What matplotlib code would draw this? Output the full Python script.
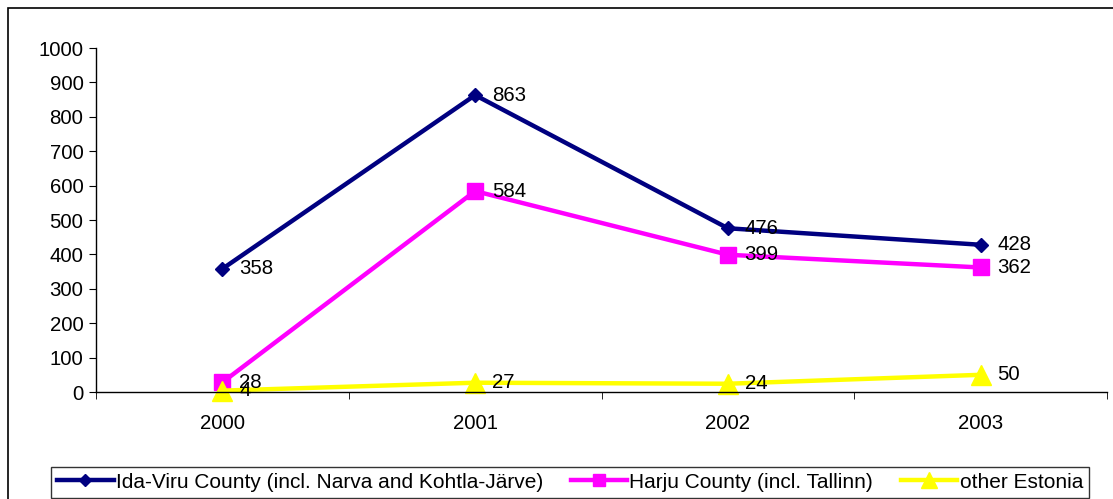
import matplotlib
matplotlib.use("Agg")
import matplotlib.pyplot as plt
from matplotlib.patches import Rectangle
import numpy as np

plt.rcParams['font.family'] = ['Liberation Sans', 'DejaVu Sans']

years = ['2000', '2001', '2002', '2003']
ida_viru = [358, 863, 476, 428]
harju = [28, 584, 399, 362]
other = [4, 27, 24, 50]

labels = ['Ida-Viru County (incl. Narva and Kohtla-Järve)',
          'Harju County (incl. Tallinn)',
          'other Estonia']

W, H = 1113, 499
fig = plt.figure(figsize=(W / 100, H / 100), dpi=100)

# chart area border (extends past right/bottom edge)
fig.patches.append(Rectangle((8 / W, -0.1), 1.2, 1 - 8 / H + 0.1,
                             transform=fig.transFigure, fill=False,
                             edgecolor='black', linewidth=1.2))

ax = fig.add_axes([96 / W, 1 - 392 / H, (1107 - 96) / W, (392 - 48) / H])

x = np.arange(len(years))
ax.plot(x, ida_viru, color='#000080', lw=3.2, marker='D', ms=7.5, label=labels[0])
ax.plot(x, harju, color='#FF00FF', lw=3.2, marker='s', ms=11, label=labels[1])
ax.plot(x, other, color='#FFFF00', lw=3.2, marker='^', ms=15, label=labels[2])

for series in (ida_viru, harju, other):
    for xi, v in zip(x, series):
        ax.annotate(str(v), (xi, v), xytext=(12, 0), textcoords='offset points',
                    va='center', ha='left', fontsize=14.7)

ax.set_xlim(-0.5, len(years) - 0.5)
ax.set_ylim(0, 1000)
ax.set_yticks(range(0, 1001, 100))
ax.set_xticks(x)
ax.set_xticklabels(years)
ax.set_xticks(np.arange(-0.5, len(years)), minor=True)
ax.tick_params(axis='x', which='major', length=0, pad=16, labelsize=14.7)
ax.tick_params(axis='x', which='minor', length=5, direction='out')
ax.tick_params(axis='y', length=5, direction='out', labelsize=14.7, pad=4)

ax.spines['top'].set_visible(False)
ax.spines['right'].set_visible(False)
for s in ('left', 'bottom'):
    ax.spines[s].set_linewidth(1)
for ln in ax.lines:
    ln.set_clip_on(False)

leg = fig.legend(loc='lower left', bbox_to_anchor=(51 / W, 1 / H), ncol=3,
                 fontsize=15, frameon=True, fancybox=False,
                 edgecolor='black', handlelength=2.7, handletextpad=0.1,
                 columnspacing=1.35, borderpad=0.3, borderaxespad=0,
                 markerscale=0.75)
leg.get_frame().set_linewidth(1)

fig.savefig('out.png', dpi=100)
